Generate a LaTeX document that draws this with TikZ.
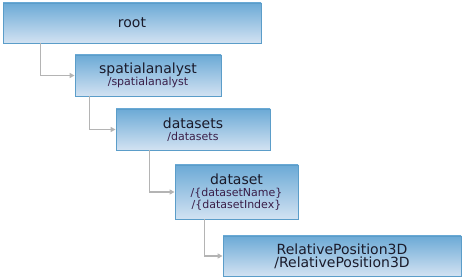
\documentclass[tikz,border=0pt]{standalone}
\usepackage{fontspec}
\setmainfont{DejaVu Sans}
\usetikzlibrary{arrows.meta}
\definecolor{boxtop}{HTML}{6CAAD6}
\definecolor{boxbot}{HTML}{D2E2F2}
\definecolor{boxline}{HTML}{5B9DC9}
\definecolor{linkgray}{HTML}{B4B4B4}
\definecolor{titletext}{HTML}{1A1A2A}
\definecolor{subtext}{HTML}{3A1E48}
\tikzset{
  item/.style={draw=boxline, line width=0.8pt, top color=boxtop, bottom color=boxbot,
    inner sep=0pt, align=center, text=titletext, font=\fontsize{14}{15}\selectfont},
  link/.style={draw=linkgray, line width=1.3pt, -{Triangle[length=5pt,width=5pt]}},
}
\newcommand{\subline}[1]{{\fontsize{11}{12}\selectfont\color{subtext}#1}}
\begin{document}
\begin{tikzpicture}[x=1pt, y=-1pt]
\useasboundingbox (0,0) rectangle (464,280);
\node[item, minimum width=258pt, minimum height=40pt] (root) at (132,23) {root};
\node[item, minimum width=146pt, minimum height=41pt] (sa) at (148,75.5) {spatialanalyst\\[-3pt]\subline{/spatialanalyst}};
\node[item, minimum width=154pt, minimum height=41pt] (dss) at (193,129.5) {datasets\\[-3pt]\subline{/datasets}};
\node[item, minimum width=123pt, minimum height=54pt] (ds) at (236.5,192) {dataset\\[-3pt]\subline{/\{datasetName\}}\\[-3pt]\subline{/\{datasetIndex\}}};
\node[item, minimum width=238pt, minimum height=40pt] (rp) at (342,256) {RelativePosition3D\\[-2pt]/RelativePosition3D};
\draw[link] ([xshift=38pt]root.south west) |- (sa.west);
\draw[link] ([xshift=15pt]sa.south west) |- (dss.west);
\draw[link] ([xshift=34pt]dss.south west) |- (ds.west);
\draw[link] ([xshift=30pt]ds.south west) |- (rp.west);
\end{tikzpicture}
\end{document}
